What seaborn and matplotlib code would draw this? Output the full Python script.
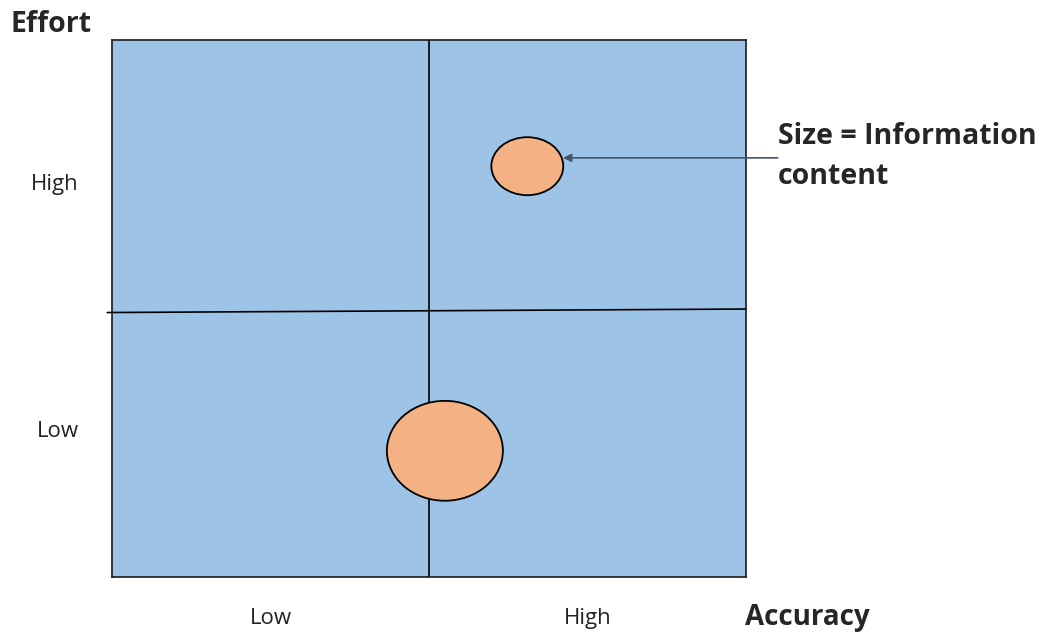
import numpy as np
import matplotlib.pyplot as plt
import seaborn as sns
from matplotlib.patches import Ellipse

# Quadrant chart: effort vs accuracy, bubble size = information content
x_labels = ["Low", "High"]
y_labels = ["Low", "High"]
x_label_pos = [0.5, 1.5]
y_label_pos = [0.55, 1.47]

bubble_x = [1.31, 1.05]
bubble_y = [1.53, 0.47]
bubble_w = [0.227, 0.366]
bubble_h = [0.216, 0.372]

sns.set_style("white")
plt.rcParams["font.family"] = ["Open Sans", "DejaVu Sans"]

fig = plt.figure(figsize=(10.5, 6.37), dpi=100)
ax = fig.add_axes([0.1067, 0.0942, 0.6038, 0.843])
ax.set_facecolor("#9DC3E6")
ax.set_xlim(0, 2)
ax.set_ylim(0, 2)

# quadrant lines
ax.plot([-0.015, 2], [0.985, 0.998], color="black", lw=1.2, clip_on=False)
ax.axvline(1.0, color="black", lw=1.2)

for x, y, w, h in zip(bubble_x, bubble_y, bubble_w, bubble_h):
    ax.add_patch(Ellipse((x, y), w, h, facecolor="#F4B183",
                         edgecolor="black", lw=1.3, zorder=3))

for s in ax.spines.values():
    s.set_color("#1a1a1a")
    s.set_linewidth(1.2)

ax.set_xticks(x_label_pos)
ax.set_xticklabels(x_labels, fontsize=16, color="#222222")
ax.set_yticks(y_label_pos)
ax.set_yticklabels(y_labels, fontsize=16, color="#222222")
ax.tick_params(axis="x", length=0, pad=22)
ax.tick_params(axis="y", length=0, pad=24)

fig.text(10 / 1050, 1 - 25 / 637, "Effort", fontsize=20.5, fontweight="bold",
         va="center", ha="left")
fig.text(745 / 1050, 1 - 617 / 637, "Accuracy", fontsize=20, fontweight="bold",
         va="center", ha="left")
fig.text(778 / 1050, 1 - 156 / 637, "Size = Information\ncontent", fontsize=20.5,
         fontweight="bold", va="center", ha="left", linespacing=1.5)

ax.annotate("", xy=(1.423, 1.561), xytext=(2.10, 1.561),
            xycoords="data", textcoords="data",
            arrowprops=dict(arrowstyle="-|>", color="#44546A", lw=1.2,
                            mutation_scale=12, shrinkA=0, shrinkB=0),
            annotation_clip=False)

plt.savefig("out.png", dpi=100)
